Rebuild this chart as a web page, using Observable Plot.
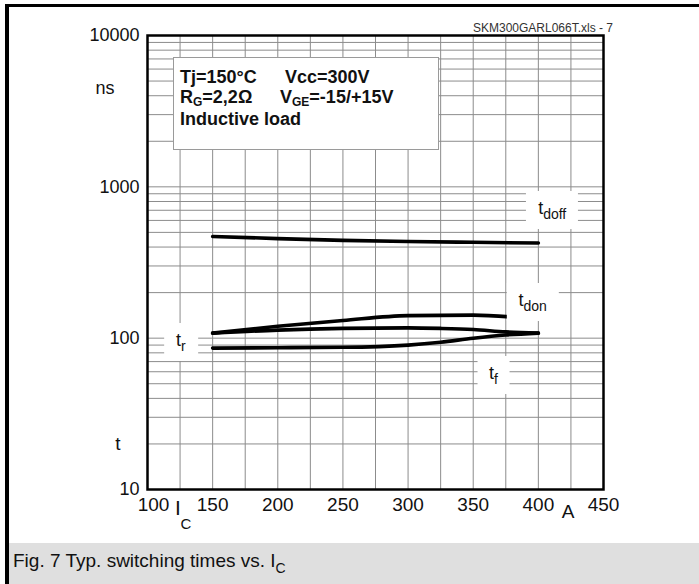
<!DOCTYPE html>
<html><head><meta charset="utf-8">
<script src="https://cdn.jsdelivr.net/npm/d3@7"></script>
<script src="https://cdn.jsdelivr.net/npm/@observablehq/plot@0.6"></script>
<style>
body{margin:0;background:#fff;font-family:"Liberation Sans",Arial,sans-serif;color:#111;}
#wrap{position:relative;width:699px;height:584px;overflow:hidden;background:#fff;}
#wrap svg{position:absolute;left:0;top:0;}
.abs{position:absolute;white-space:pre;line-height:1;}
.c{transform:translate(-50%,-50%);}
.lbl{position:absolute;background:#fff;transform:translate(-50%,-50%);padding:8px 12px;white-space:pre;line-height:1;font-size:18px;}
.lbl sub{font-size:14px;vertical-align:-5px;line-height:1;}
.leg{position:absolute;left:173px;top:57px;width:266px;height:93px;box-sizing:border-box;border:1px solid #9a9a9a;background:#fff;font-weight:bold;font-size:18px;}
.leg span.l{position:absolute;white-space:pre;line-height:1;}
.leg sub{font-size:12px;vertical-align:-3px;line-height:1;}
</style></head><body><div id="wrap"></div>
<script>
// ---- data (collector current in A, time in ns) ----
const currentDoff = [150, 200, 250, 300, 350, 400];
const tdoff       = [470, 455, 443, 435, 430, 425];
const currentDon  = [150, 200, 250, 300, 350, 380];
const tdon        = [108, 120, 131, 141, 142, 138];
const currentRF   = [150, 200, 250, 300, 325, 350, 375, 400];
const tr          = [108, 113, 116, 117, 116, 114, 110, 108];
const tf          = [86, 86.5, 87, 90, 94, 100, 105, 108];
const xTicks = [100, 150, 200, 250, 300, 350, 400, 450];
const yTicks = [10, 100, 1000, 10000];
const labelNames = ["doff", "don", "r", "f"];
const labelCurrent = [411, 396, 126, 366];
const labelTime = [698, 172, 94, 57];

const rows = [
  ...currentDoff.map((a, i) => ({series: "t_doff", a, t: tdoff[i]})),
  ...currentDon.map((a, i) => ({series: "t_don", a, t: tdon[i]})),
  ...currentRF.map((a, i) => ({series: "t_r", a, t: tr[i]})),
  ...currentRF.map((a, i) => ({series: "t_f", a, t: tf[i]}))
];
const xGrid = d3.range(100, 451, 25);
const yGrid = d3.scaleLog().domain([10, 10000]).ticks();

const plot = Plot.plot({
  width: 699, height: 543,
  marginLeft: 147, marginRight: 96, marginTop: 35, marginBottom: 54,
  style: {fontFamily: "Liberation Sans, Arial, sans-serif", background: "transparent", color: "#111"},
  x: {domain: [100, 450]},
  y: {type: "log", domain: [10, 10000]},
  marks: [
    Plot.ruleX(xGrid, {stroke: "#8c8c8c", strokeWidth: 1}),
    Plot.ruleY(yGrid, {stroke: "#8c8c8c", strokeWidth: 1}),
    Plot.line(rows, {x: "a", y: "t", z: "series", stroke: "#000", strokeWidth: 3.6, curve: "monotone-x"}),
    Plot.frame({stroke: "#000", strokeWidth: 2.5}),
    Plot.axisX({ticks: xTicks.slice(1), tickSize: 0, tickPadding: 8, fontSize: 19, label: null, tickFormat: d => String(d)}),
    Plot.axisX({ticks: xTicks.slice(0, 1), tickSize: 0, tickPadding: 8, fontSize: 19, label: null, dx: 6, tickFormat: d => String(d)}),
    Plot.axisY({ticks: yTicks, tickSize: 0, tickPadding: 8, fontSize: 18, label: null, tickFormat: d => String(d)})
  ]
});
const wrap = document.getElementById("wrap");
wrap.appendChild(plot);

function add(html, cls, style) {
  const d = document.createElement("div");
  d.className = cls; d.innerHTML = html; d.setAttribute("style", style);
  wrap.appendChild(d); return d;
}
// curve labels on white patches, placed through the plot's scales
const sx = plot.scale("x"), sy = plot.scale("y");
labelNames.forEach((n, i) => {
  add(`t<sub>${n}</sub>`, "lbl", `left:${sx.apply(labelCurrent[i])}px;top:${sy.apply(labelTime[i])}px;`);
});
// conditions box
add(`<span class="l" style="left:6px;top:10px">Tj=150°C</span><span class="l" style="left:111px;top:10px">Vcc=300V</span>` +
    `<span class="l" style="left:6px;top:30px">R<sub>G</sub>=2,2Ω</span><span class="l" style="left:106px;top:30px">V<sub>GE</sub>=-15/+15V</span>` +
    `<span class="l" style="left:6px;top:52px">Inductive load</span>`, "leg", "");
// axis annotations
add("ns", "abs c", "left:105px;top:88px;font-size:18px;");
add("t", "abs c", "left:118px;top:443px;font-size:19px;");
add("I", "abs c", "left:178px;top:507px;font-size:21px;");
add("C", "abs c", "left:186px;top:523px;font-size:15px;");
add("A", "abs c", "left:568px;top:511px;font-size:19px;");
add("SKM300GARL066T.xls - 7", "abs c", "left:543px;top:28px;font-size:12px;color:#333;");
// caption band and frame lines
add(`Fig. 7 Typ. switching times vs. I<sub style="font-size:14px;vertical-align:-6px;line-height:1">C</sub>`, "abs",
    "left:9px;top:543px;width:690px;height:41px;background:#dfdfdf;font-size:19px;padding:8px 0 0 4px;box-sizing:border-box;");
add("", "abs", "left:5px;top:4px;width:4px;height:580px;background:#000;");
add("", "abs", "left:5px;top:4px;width:694px;height:3px;background:#000;");
</script></body></html>
